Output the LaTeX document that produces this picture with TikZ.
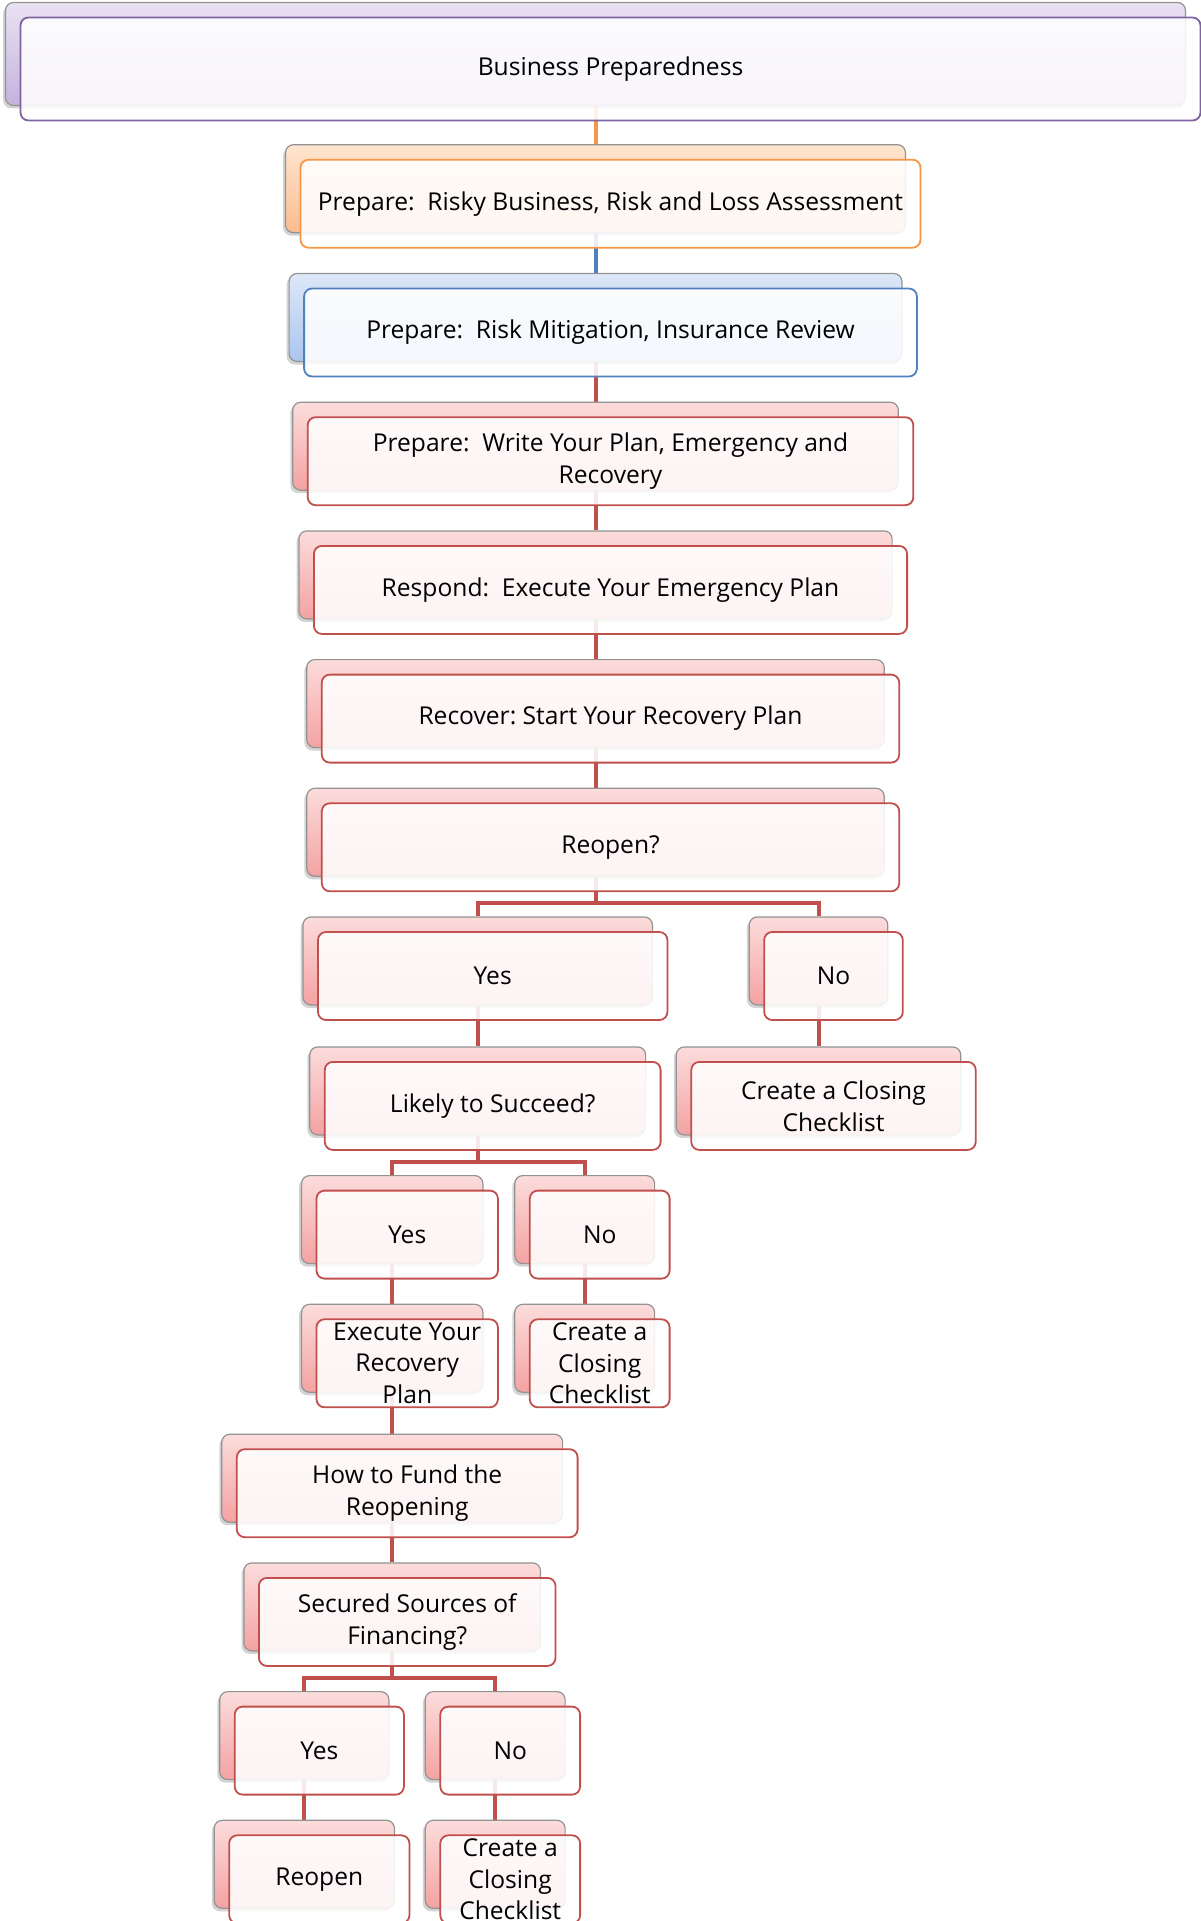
\documentclass[tikz,border=0pt]{standalone}
\usepackage{fontspec}
\setmainfont{Open Sans}
\frenchspacing
\usetikzlibrary{shadows,backgrounds}

\definecolor{purpletop}{HTML}{E9E2F2}
\definecolor{purplebot}{HTML}{C4B2DD}
\definecolor{purpleline}{HTML}{8064A2}
\definecolor{orangetop}{HTML}{FEE5CF}
\definecolor{orangebot}{HTML}{FBBC8E}
\definecolor{orangeline}{HTML}{F79646}
\definecolor{bluetop}{HTML}{DDE8F8}
\definecolor{bluebot}{HTML}{AAC5EF}
\definecolor{blueline}{HTML}{4F81BD}
\definecolor{redtop}{HTML}{FCDCDC}
\definecolor{redbot}{HTML}{F4A2A2}
\definecolor{redline}{HTML}{C0504D}

\tikzset{
  card/.style={rectangle,rounded corners=4pt,draw=gray!85,line width=0.6pt,
    top color=#1top,bottom color=#1bot,minimum height=44pt,inner sep=0pt,
    drop shadow={shadow xshift=-1.2pt,shadow yshift=-1.5pt,opacity=0.35}},
  face/.style={rectangle,rounded corners=4pt,draw=#1line,line width=0.9pt,
    fill=white,fill opacity=0.88,text opacity=1,minimum height=44pt,inner sep=0pt,
    align=center,font=\fontsize{12.3}{15.9}\selectfont},
  link/.style={line width=2pt,draw=#1line},
}

\begin{document}
\begin{tikzpicture}[x=0.5pt,y=-0.5pt]
\useasboundingbox (0,0) rectangle (1200,1921);
% main column
\node[card=purple,minimum width=590pt,minimum height=51.5pt](top) at (595.5,54){};
\node[face=purple,minimum width=590pt,minimum height=51.5pt](topF) at ([shift={(7.5pt,-7.5pt)}]top.center){Business Preparedness};
\node[card=orange,minimum width=310pt](risk) at (595.5,188.7){};
\node[face=orange,minimum width=310pt](riskF) at ([shift={(7.5pt,-7.5pt)}]risk.center){Prepare:\ \ Risky Business, Risk and Loss Assessment};
\node[card=blue,minimum width=306.4pt](mitig) at (595.5,317.5){};
\node[face=blue,minimum width=306.4pt](mitigF) at ([shift={(7.5pt,-7.5pt)}]mitig.center){Prepare:\ \ Risk Mitigation, Insurance Review};
\node[card=red,minimum width=302.8pt](plan) at (595.5,446.2){};
\node[face=red,minimum width=302.8pt](planF) at ([shift={(7.5pt,-7.5pt)}]plan.center){Prepare:\ \ Write Your Plan, Emergency and\\Recovery};
\node[card=red,minimum width=296.6pt](respond) at (595.5,574.9){};
\node[face=red,minimum width=296.6pt](respondF) at ([shift={(7.5pt,-7.5pt)}]respond.center){Respond:\ \ Execute Your Emergency Plan};
\node[card=red,minimum width=288.7pt](recover) at (595.5,703.6){};
\node[face=red,minimum width=288.7pt](recoverF) at ([shift={(7.5pt,-7.5pt)}]recover.center){Recover: Start Your Recovery Plan};
\node[card=red,minimum width=288.7pt](reopen) at (595.5,832.3){};
\node[face=red,minimum width=288.7pt](reopenF) at ([shift={(7.5pt,-7.5pt)}]reopen.center){Reopen?};
% first split
\node[card=red,minimum width=174.7pt](yes) at (477.7,961){};
\node[face=red,minimum width=174.7pt](yesF) at ([shift={(7.5pt,-7.5pt)}]yes.center){Yes};
\node[card=red,minimum width=69.3pt](no) at (818.5,961){};
\node[face=red,minimum width=69.3pt](noF) at ([shift={(7.5pt,-7.5pt)}]no.center){No};
\node[card=red,minimum width=167.9pt](likely) at (477.7,1090.9){};
\node[face=red,minimum width=167.9pt](likelyF) at ([shift={(7.5pt,-7.5pt)}]likely.center){Likely to Succeed?};
\node[card=red,minimum width=142.2pt](closeA) at (818.5,1090.9){};
\node[face=red,minimum width=142.2pt](closeAF) at ([shift={(7.5pt,-7.5pt)}]closeA.center){Create a Closing\\Checklist};
% second split
\node[card=red,minimum width=90.7pt](yesB) at (392.2,1219.6){};
\node[face=red,minimum width=90.7pt](yesBF) at ([shift={(7.5pt,-7.5pt)}]yesB.center){Yes};
\node[card=red,minimum width=69.9pt](noB) at (584.7,1219.6){};
\node[face=red,minimum width=69.9pt](noBF) at ([shift={(7.5pt,-7.5pt)}]noB.center){No};
\node[card=red,minimum width=90.7pt](execute) at (392.2,1348.3){};
\node[face=red,minimum width=90.7pt](executeF) at ([shift={(7.5pt,-7.5pt)}]execute.center){Execute Your\\Recovery\\Plan};
\node[card=red,minimum width=69.9pt](closeB) at (584.7,1348.3){};
\node[face=red,minimum width=69.9pt](closeBF) at ([shift={(7.5pt,-7.5pt)}]closeB.center){Create a\\Closing\\Checklist};
\node[card=red,minimum width=170.4pt](fund) at (392.2,1478.2){};
\node[face=red,minimum width=170.4pt](fundF) at ([shift={(7.5pt,-7.5pt)}]fund.center){How to Fund the\\Reopening};
\node[card=red,minimum width=148.3pt](secured) at (392.2,1606.9){};
\node[face=red,minimum width=148.3pt](securedF) at ([shift={(7.5pt,-7.5pt)}]secured.center){Secured Sources of\\Financing?};
% third split
\node[card=red,minimum width=84.6pt](yesC) at (304.3,1735.6){};
\node[face=red,minimum width=84.6pt](yesCF) at ([shift={(7.5pt,-7.5pt)}]yesC.center){Yes};
\node[card=red,minimum width=69.9pt](noC) at (495.2,1735.6){};
\node[face=red,minimum width=69.9pt](noCF) at ([shift={(7.5pt,-7.5pt)}]noC.center){No};
\node[card=red,minimum width=90.1pt](reopenC) at (304.3,1864.3){};
\node[face=red,minimum width=90.1pt](reopenCF) at ([shift={(7.5pt,-7.5pt)}]reopenC.center){Reopen};
\node[card=red,minimum width=69.9pt](closeC) at (495.2,1864.3){};
\node[face=red,minimum width=69.9pt](closeCF) at ([shift={(7.5pt,-7.5pt)}]closeC.center){Create a\\Closing\\Checklist};
% connectors
\begin{scope}[on background layer]
\draw[link=orange](top.south)--(risk.north);
\draw[link=blue](risk.south)--(mitig.north);
\draw[link=red](mitig.south)--(plan.north);
\draw[link=red](plan.south)--(respond.north);
\draw[link=red](respond.south)--(recover.north);
\draw[link=red](recover.south)--(reopen.north);
\draw[link=red](yes.north)--++(0,-13)-|(reopen.south);
\draw[link=red](no.north)--++(0,-13)-|(reopen.south);
\draw[link=red](yes.south)--(likely.north);
\draw[link=red](no.south)--(closeA.north);
\draw[link=red](yesB.north)--++(0,-13)-|(likely.south);
\draw[link=red](noB.north)--++(0,-13)-|(likely.south);
\draw[link=red](yesB.south)--(execute.north);
\draw[link=red](noB.south)--(closeB.north);
\draw[link=red](execute.south)--(fund.north);
\draw[link=red](fund.south)--(secured.north);
\draw[link=red](yesC.north)--++(0,-13)-|(secured.south);
\draw[link=red](noC.north)--++(0,-13)-|(secured.south);
\draw[link=red](yesC.south)--(reopenC.north);
\draw[link=red](noC.south)--(closeC.north);
\end{scope}
\end{tikzpicture}
\end{document}
